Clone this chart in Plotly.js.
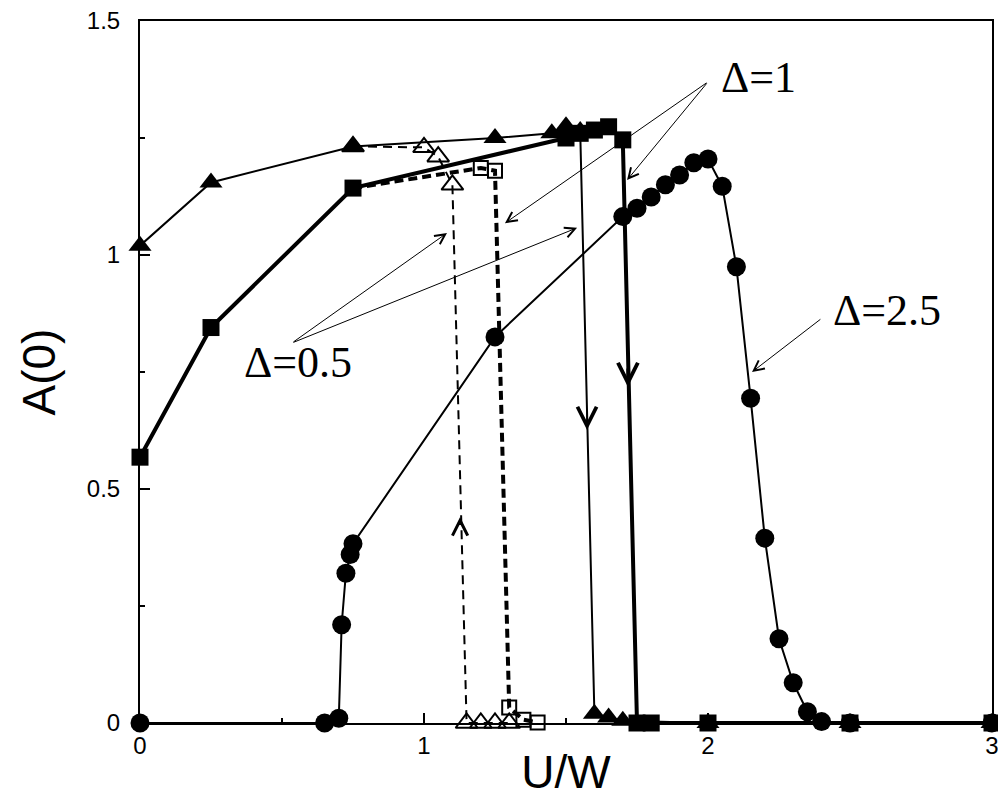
<!DOCTYPE html>
<html>
<head>
<meta charset="utf-8">
<script src="https://cdn.plot.ly/plotly-3.0.1.min.js"></script>
<style>html,body{margin:0;padding:0;background:#fff;}#chart{width:998px;height:798px;}</style>
</head>
<body>
<div id="chart"></div>
<script>
// Δ=0.5, filled triangles (solid thin)
var triX = [0, 0.25, 0.75, 1.25, 1.45, 1.5, 1.55, 1.6, 1.65, 1.7, 2.0, 2.5, 3.0];
var triY = [1.02, 1.155, 1.232, 1.25, 1.26, 1.275, 1.265, 0.02, 0.012, 0.005, 0, 0, 0];
// Δ=1, filled squares (solid thick)
var sqX = [0, 0.25, 0.75, 1.5, 1.55, 1.6, 1.65, 1.7, 1.75, 1.8, 2.0, 2.5, 3.0];
var sqY = [0.568, 0.845, 1.143, 1.25, 1.26, 1.267, 1.274, 1.246, 0, 0, 0, 0, 0];
// Δ=0.5, open triangles (dashed thin)
var otX = [0.75, 1.0, 1.05, 1.1, 1.15, 1.2, 1.25, 1.3];
var otY = [1.232, 1.23, 1.21, 1.15, 0, 0, 0, 0];
// Δ=1, open squares (dashed thick)
var osX = [0.75, 1.2, 1.25, 1.3, 1.35, 1.4];
var osY = [1.143, 1.186, 1.18, 0.033, 0.007, 0.001];
// Δ=2.5, filled circles
var cX = [0, 0.65, 0.70, 0.71, 0.725, 0.74, 0.75, 1.25, 1.70, 1.75, 1.80, 1.85, 1.90, 1.95, 2.0, 2.05, 2.10, 2.15, 2.20, 2.25, 2.30, 2.35, 2.40, 2.5, 3.0];
var cY = [0, 0, 0.01, 0.21, 0.32, 0.36, 0.383, 0.825, 1.082, 1.10, 1.124, 1.15, 1.171, 1.197, 1.205, 1.147, 0.975, 0.694, 0.395, 0.18, 0.086, 0.024, 0.003, 0, 0];

var xTickVals = [0, 1, 2, 3];
var xTickText = ['0', '1', '2', '3'];
var yTickVals = [0, 0.5, 1, 1.5];
var yTickText = ['0', '0.5', '1', '1.5'];

var sans = '"Liberation Sans", Arial, sans-serif';
var serifFam = '"Liberation Serif", "Times New Roman", serif';

var traces = [
  {x: otX, y: otY, mode: 'lines+markers', cliponaxis: false,
   line: {color: 'black', width: 2, dash: '9px,6px'},
   marker: {symbol: 'triangle-up-open', size: 19, color: 'black', line: {width: 2, color: 'black'}}},
  {x: osX, y: osY, mode: 'lines+markers', cliponaxis: false,
   line: {color: 'black', width: 4, dash: '9px,5px'},
   marker: {symbol: 'square-open', size: 14, color: 'black', line: {width: 2, color: 'black'}}},
  {x: cX, y: cY, mode: 'lines+markers', cliponaxis: false,
   line: {color: 'black', width: 2},
   marker: {symbol: 'circle', size: 19, color: 'black'}},
  {x: triX, y: triY, mode: 'lines+markers', cliponaxis: false,
   line: {color: 'black', width: 2},
   marker: {symbol: 'triangle-up', size: 20, color: 'black'}},
  {x: sqX, y: sqY, mode: 'lines+markers', cliponaxis: false,
   line: {color: 'black', width: 4},
   marker: {symbol: 'square', size: 17, color: 'black'}},
  // empty trace that only carries the tick-label axis
  {x: [], y: [], yaxis: 'y2', mode: 'markers', hoverinfo: 'skip'}
];

function label(t, x, y) {
  return {text: t, x: x, y: y, xref: 'x', yref: 'y', showarrow: false,
          font: {family: serifFam, size: 44, color: 'black'}, xanchor: 'center', yanchor: 'middle'};
}
function pointer(tx, ty, hx, hy) {
  return {text: '', x: hx, y: hy, ax: tx, ay: ty, xref: 'x', yref: 'y', axref: 'x', ayref: 'y',
          showarrow: true, arrowhead: 5, arrowsize: 2, arrowwidth: 1, arrowcolor: 'black', standoff: 0};
}
function chevron(hx, hy, dy, w, s) {
  return {text: '', x: hx, y: hy, ax: 0, ay: dy, xref: 'x', yref: 'y',
          showarrow: true, arrowhead: 5, arrowsize: s, arrowwidth: w, arrowcolor: 'black', standoff: 0};
}

var annotations = [
  label('Δ=1', 2.178, 1.38),
  label('Δ=2.5', 2.632, 0.882),
  label('Δ=0.5', 0.555, 0.771),
  pointer(2.0, 1.37, 1.285, 1.068),
  pointer(2.0, 1.37, 1.715, 1.160),
  pointer(2.401, 0.865, 2.155, 0.75),
  pointer(0.535, 0.812, 1.081, 1.047),
  pointer(0.535, 0.812, 1.539, 1.058),
  chevron(1.574, 0.626, -20, 1.5, 2.5),
  chevron(1.718, 0.718, -20, 3, 1.3),
  chevron(1.127, 0.44, 8, 1.5, 2),
  chevron(1.278, 0.583, 8, 3, 1.2),
  {text: 'A(0)', textangle: -90, x: -0.118, y: 0.5, xref: 'paper', yref: 'paper', showarrow: false,
   xanchor: 'center', yanchor: 'middle', font: {family: sans, size: 46, color: 'black'}}
];

var layout = {
  width: 998, height: 798,
  margin: {l: 140, r: 6, t: 21, b: 75},
  paper_bgcolor: 'white', plot_bgcolor: 'white',
  showlegend: false,
  xaxis: {
    range: [0, 3], showgrid: false, zeroline: false,
    showline: true, linecolor: 'black', linewidth: 2, mirror: true,
    ticks: 'inside', ticklen: 10, tickwidth: 2, tickcolor: 'black',
    tickmode: 'array', tickvals: xTickVals, ticktext: xTickText,
    tickfont: {family: sans, size: 24, color: 'black'}, ticklabeloverflow: 'allow',
    minor: {dtick: 0.5, ticks: 'inside', ticklen: 5, tickwidth: 2, tickcolor: 'black'},
    title: {text: 'U/W', font: {family: sans, size: 46, color: 'black'}, standoff: 2}
  },
  yaxis: {
    range: [0, 1.5], showgrid: false, zeroline: false,
    showline: true, linecolor: 'black', linewidth: 2, mirror: true,
    ticks: 'inside', ticklen: 10, tickwidth: 2, tickcolor: 'black',
    tickmode: 'array', tickvals: yTickVals, showticklabels: false,
    minor: {dtick: 0.25, ticks: 'inside', ticklen: 5, tickwidth: 2, tickcolor: 'black'}
  },
  yaxis2: {
    overlaying: 'y', anchor: 'x', side: 'left',
    range: [0, 1.5], showgrid: false, zeroline: false, showline: false,
    ticks: 'outside', ticklen: 14, tickwidth: 1, tickcolor: 'rgba(0,0,0,0)',
    tickmode: 'array', tickvals: yTickVals, ticktext: yTickText,
    tickfont: {family: sans, size: 24, color: 'black'}
  },
  annotations: annotations
};

Plotly.newPlot('chart', traces, layout, {displayModeBar: false});
</script>
</body>
</html>
